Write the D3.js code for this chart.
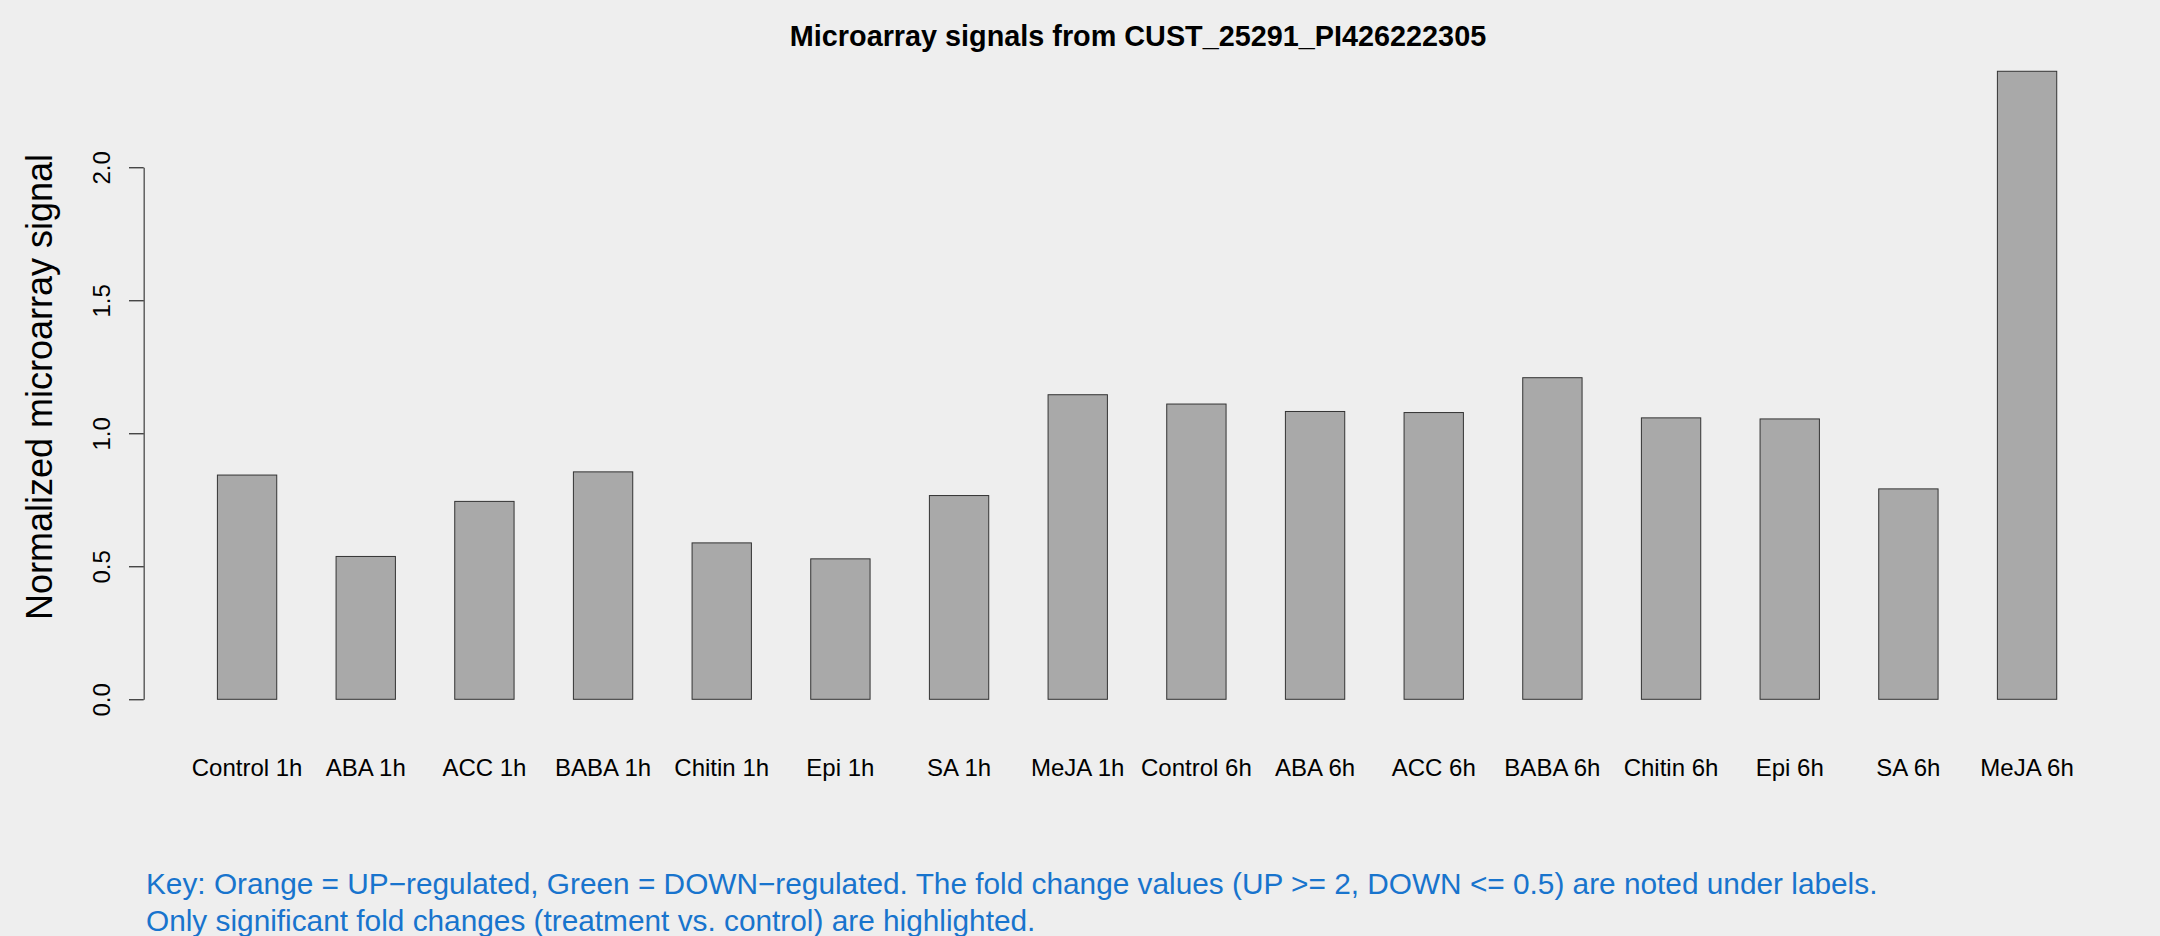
<!DOCTYPE html>
<html>
<head>
<meta charset="utf-8">
<script src="https://cdn.jsdelivr.net/npm/d3@7/dist/d3.min.js"></script>
<style>
  html, body { margin: 0; padding: 0; background: #eeeeee; }
  svg { display: block; font-family: "Liberation Sans", Arial, Helvetica, sans-serif; }
</style>
</head>
<body>
<svg id="chart" width="2160" height="936"></svg>
<script>
const categories = ["Control 1h", "ABA 1h", "ACC 1h", "BABA 1h", "Chitin 1h", "Epi 1h", "SA 1h", "MeJA 1h",
                    "Control 6h", "ABA 6h", "ACC 6h", "BABA 6h", "Chitin 6h", "Epi 6h", "SA 6h", "MeJA 6h"];
const values = [0.843, 0.537, 0.744, 0.855, 0.588, 0.528, 0.766, 1.145,
                1.110, 1.082, 1.078, 1.209, 1.058, 1.054, 0.791, 2.361];
const yTicks = [0, 0.5, 1.0, 1.5, 2.0];
const titleText = "Microarray signals from CUST_25291_PI426222305";
const yLabel = "Normalized microarray signal";
const keyLines = [
  "Key: Orange = UP\u2212regulated, Green = DOWN\u2212regulated. The fold change values (UP >= 2, DOWN <= 0.5) are noted under labels.",
  "Only significant fold changes (treatment vs. control) are highlighted."
];

const svg = d3.select("#chart");
svg.append("rect").attr("width", 2160).attr("height", 936).attr("fill", "#eeeeee");

const x = d3.scaleBand()
  .domain(categories)
  .range([187.74, 2086.4])
  .paddingInner(0.5)
  .paddingOuter(0.25);

const y = d3.scaleLinear().domain([0, 2]).range([699.3, 167.3]);

// bars
svg.append("g").selectAll("rect")
  .data(categories.map((c, i) => ({ c, v: values[i] })))
  .join("rect")
  .attr("x", d => x(d.c))
  .attr("width", x.bandwidth())
  .attr("y", d => y(d.v))
  .attr("height", d => y(0) - y(d.v))
  .attr("fill", "#a9a9a9")
  .attr("stroke", "#333333")
  .attr("stroke-width", 1);

// y axis
const yAxis = d3.axisLeft(y)
  .tickValues(yTicks)
  .tickFormat(d3.format(".1f"))
  .tickSizeInner(14.7)
  .tickSizeOuter(0);

const gy = svg.append("g")
  .attr("transform", "translate(143.7,0)")
  .call(yAxis);
gy.select(".domain").attr("stroke", "#555555").attr("stroke-width", 1.4);
gy.selectAll(".tick line").attr("stroke", "#000000");
gy.selectAll(".tick text")
  .attr("x", null).attr("dy", null)
  .attr("transform", "translate(-33.7,0) rotate(-90)")
  .attr("text-anchor", "middle")
  .attr("fill", "#000000")
  .style("font-size", "24px")
  .style("font-family", "\"Liberation Sans\", Arial, Helvetica, sans-serif");

// x labels
svg.append("g").selectAll("text")
  .data(categories)
  .join("text")
  .attr("x", d => x(d) + x.bandwidth() / 2)
  .attr("y", 775.7)
  .attr("text-anchor", "middle")
  .style("font-size", "24px")
  .attr("fill", "#000000")
  .text(d => d);

// title
svg.append("text")
  .attr("x", 1138)
  .attr("y", 46)
  .attr("text-anchor", "middle")
  .style("font-size", "28.8px")
  .style("font-weight", "bold")
  .attr("fill", "#000000")
  .text(titleText);

// y label
svg.append("text")
  .attr("transform", "translate(52,387) rotate(-90)")
  .attr("text-anchor", "middle")
  .style("font-size", "36px")
  .attr("fill", "#000000")
  .text(yLabel);

// key
svg.append("g").selectAll("text")
  .data(keyLines)
  .join("text")
  .attr("x", 146)
  .attr("y", (d, i) => 894.3 + i * 36.5)
  .style("font-size", "29.8px")
  .attr("fill", "#1874cd")
  .text(d => d);
</script>
</body>
</html>
